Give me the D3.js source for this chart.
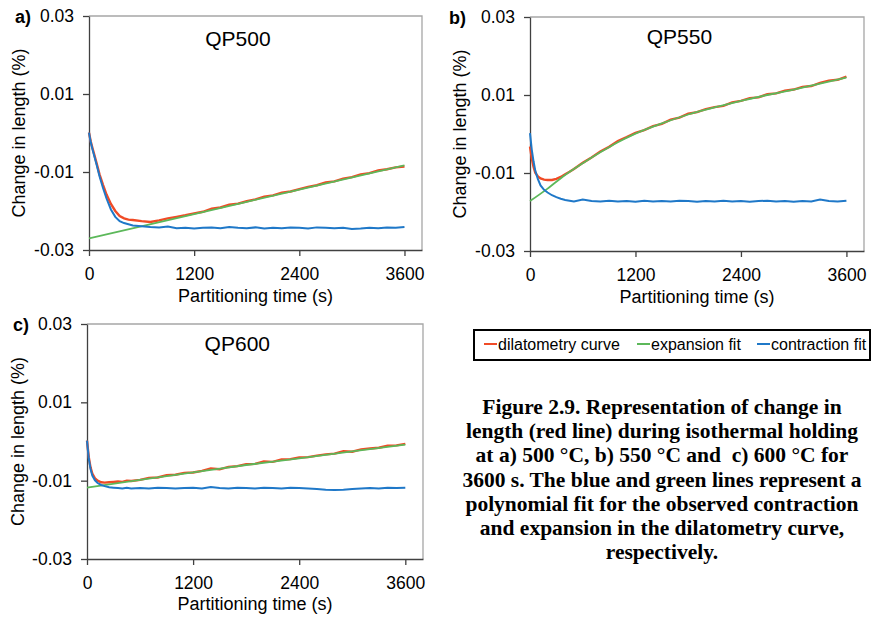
<!DOCTYPE html>
<html>
<head>
<meta charset="utf-8">
<title>Change in length during isothermal holding</title>
<script src="https://d3js.org/d3.v7.min.js"></script>
<style>
	body { margin: 0; background: #fff; }
	svg text { font-family: "Liberation Sans", Arial, sans-serif; fill: #000; }
	.axis path, .axis line { stroke: #404040; stroke-width: 1.3; }
	.axis text { font-size: 17.5px; }
	.frame { fill: none; stroke: #a6a6a6; stroke-width: 1.3; }
	.caption text { font-family: "Liberation Serif", "Times New Roman", serif; font-weight: bold; font-size: 21.5px; white-space: pre; }
</style>
</head>
<body>
<svg id="chart" width="872" height="618"></svg>
<script>
// partitioning time (s) for the measured / contraction series
var time = [0, 20, 40, 60, 90, 120, 160, 200, 250, 300, 350, 400, 450, 500,
	600, 700, 800, 900, 1000, 1100, 1200, 1300, 1400, 1500, 1600, 1700, 1800, 1900,
	2000, 2100, 2200, 2300, 2400, 2500, 2600, 2700, 2800, 2900, 3000, 3100, 3200,
	3300, 3400, 3500, 3600];

// QP500
var qp500Dil = [0.0001, -0.0022, -0.0039, -0.0055, -0.0080, -0.0106, -0.0133, -0.0158, -0.0182, -0.0200, -0.0213, -0.0219, -0.0222, -0.0223,
	-0.0226, -0.0228, -0.0224, -0.0219, -0.0215, -0.0211, -0.0206, -0.0202, -0.0194, -0.0191, -0.0184, -0.0181, -0.0175, -0.0170,
	-0.0163, -0.0160, -0.0153, -0.0150, -0.0144, -0.0138, -0.0134, -0.0127, -0.0124, -0.0117, -0.0113, -0.0106, -0.0103,
	-0.0096, -0.0093, -0.0088, -0.0086];
var qp500Con = [0.0001, -0.0024, -0.0042, -0.0059, -0.0084, -0.0111, -0.0141, -0.0168, -0.0196, -0.0215, -0.0226, -0.0231, -0.0234, -0.0237,
	-0.0239, -0.0241, -0.0242, -0.0240, -0.0244, -0.0243, -0.0245, -0.0243, -0.0242, -0.0244, -0.0241, -0.0243, -0.0244, -0.0242,
	-0.0245, -0.0243, -0.0244, -0.0242, -0.0243, -0.0245, -0.0242, -0.0243, -0.0244, -0.0243, -0.0246, -0.0245, -0.0243,
	-0.0244, -0.0242, -0.0243, -0.0241];
var qp500FitTime = [0, 1200, 2400, 3600];
var qp500Exp = [-0.0270, -0.0208, -0.0145, -0.0083];

// QP550
var qp550Dil = [-0.0032, -0.0062, -0.0084, -0.0099, -0.0109, -0.0114, -0.0117, -0.0118, -0.0118, -0.0115, -0.0110, -0.0103, -0.0097, -0.0090,
	-0.0074, -0.0060, -0.0045, -0.0033, -0.0018, -0.0008, 0.0003, 0.0010, 0.0020, 0.0026, 0.0037, 0.0042, 0.0052, 0.0056,
	0.0064, 0.0069, 0.0072, 0.0081, 0.0085, 0.0092, 0.0094, 0.0102, 0.0104, 0.0111, 0.0114, 0.0121, 0.0123,
	0.0131, 0.0137, 0.0139, 0.0147];
var qp550Con = [0.0002, -0.0040, -0.0070, -0.0094, -0.0116, -0.0132, -0.0143, -0.0150, -0.0157, -0.0162, -0.0166, -0.0169, -0.0171, -0.0173,
	-0.0168, -0.0172, -0.0173, -0.0171, -0.0173, -0.0172, -0.0174, -0.0171, -0.0173, -0.0172, -0.0173, -0.0171, -0.0172, -0.0174,
	-0.0172, -0.0173, -0.0171, -0.0173, -0.0172, -0.0174, -0.0172, -0.0171, -0.0173, -0.0172, -0.0174, -0.0172, -0.0173,
	-0.0168, -0.0172, -0.0173, -0.0171];
var qp550FitTime = [0, 200, 400, 600, 800, 1000, 1200, 1500, 1800, 2100, 2400, 2700, 3000, 3300, 3600];
var qp550Exp = [-0.0172, -0.0140, -0.0105, -0.0075, -0.0047, -0.0021, 0.0001, 0.0027, 0.0050, 0.0068, 0.0085, 0.0100, 0.0114, 0.0129, 0.0145];

// QP600
var qp600Dil = [0.0002, -0.0040, -0.0066, -0.0082, -0.0094, -0.0100, -0.0104, -0.0105, -0.0104, -0.0103, -0.0102, -0.0103, -0.0100, -0.0101,
	-0.0098, -0.0093, -0.0092, -0.0086, -0.0085, -0.0080, -0.0079, -0.0075, -0.0069, -0.0071, -0.0065, -0.0063, -0.0058, -0.0057,
	-0.0051, -0.0052, -0.0046, -0.0045, -0.0041, -0.0040, -0.0036, -0.0033, -0.0031, -0.0025, -0.0026, -0.0020, -0.0018,
	-0.0016, -0.0011, -0.0010, -0.0006];
var qp600Con = [0.0002, -0.0044, -0.0070, -0.0087, -0.0099, -0.0106, -0.0111, -0.0114, -0.0117, -0.0118, -0.0119, -0.0120, -0.0118, -0.0120,
	-0.0119, -0.0120, -0.0118, -0.0119, -0.0120, -0.0119, -0.0118, -0.0120, -0.0116, -0.0119, -0.0120, -0.0118, -0.0119, -0.0120,
	-0.0118, -0.0119, -0.0120, -0.0118, -0.0119, -0.0120, -0.0121, -0.0123, -0.0124, -0.0123, -0.0121, -0.0120, -0.0119,
	-0.0120, -0.0118, -0.0119, -0.0118];
var qp600FitTime = [0, 600, 1200, 1800, 2400, 3000, 3600];
var qp600Exp = [-0.0118, -0.0098, -0.0079, -0.0060, -0.0043, -0.0025, -0.0008];

var yTicks = [-0.03, -0.01, 0.01, 0.03];
var xTicks = [0, 1200, 2400, 3600];
var legendLabels = ["dilatometry curve", "expansion fit", "contraction fit"];
var captionLines = [
	"Figure 2.9. Representation of change in",
	"length (red line) during isothermal holding",
	"at a) 500 \u00b0C, b) 550 \u00b0C and  c) 600 \u00b0C for",
	"3600 s. The blue and green lines represent a",
	"polynomial fit for the observed contraction",
	"and expansion in the dilatometry curve,",
	"respectively."
];

var colors = { dil: "#f04b26", exp: "#5cb85a", con: "#1f78c8" };

var svg = d3.select("#chart");

var panels = [
	{ tag: "a)", name: "QP500", dil: qp500Dil, con: qp500Con, fitT: qp500FitTime, fit: qp500Exp,
	  left: 89, right: 422, top: 16, bottom: 250, ylabX: 25, tagX: 15, tickY: 280, titleY: 302, nameY: 46 },
	{ tag: "b)", name: "QP550", dil: qp550Dil, con: qp550Con, fitT: qp550FitTime, fit: qp550Exp,
	  left: 530, right: 864, top: 17, bottom: 251, ylabX: 466, tagX: 449, tickY: 281, titleY: 303, nameY: 44 },
	{ tag: "c)", name: "QP600", dil: qp600Dil, con: qp600Con, fitT: qp600FitTime, fit: qp600Exp,
	  left: 87, right: 423, top: 324, bottom: 559, ylabX: 24, tagX: 13, tickY: 589, titleY: 610, nameY: 351 }
];

panels.forEach(drawPanel);

function drawPanel(p) {
	var x = d3.scaleLinear().domain([0, 3800]).range([p.left, p.right]);
	var y = d3.scaleLinear().domain([-0.03, 0.03]).range([p.bottom, p.top]);
	var g = svg.append("g");

	g.append("path")
	 .attr("class", "frame")
	 .attr("d", "M" + p.left + "," + p.top + "H" + p.right + "V" + p.bottom);

	g.append("g")
	 .attr("class", "axis")
	 .attr("transform", "translate(" + p.left + ",0)")
	 .call(d3.axisLeft(y).tickValues(yTicks).tickSize(6).tickSizeOuter(0).tickPadding(9)
		 .tickFormat(function(d) { return d.toFixed(2); }));

	var xa = g.append("g")
	 .attr("class", "axis")
	 .attr("transform", "translate(0," + p.bottom + ")")
	 .call(d3.axisBottom(x).tickValues(xTicks).tickSize(6).tickSizeOuter(0)
		 .tickFormat(function(d) { return String(d); }));
	xa.selectAll(".tick text").attr("dy", null).attr("y", p.tickY - p.bottom);

	svg.selectAll(".axis").attr("font-family", null).attr("font-size", null);

	var mid = (p.top + p.bottom) / 2;
	g.append("text")
	 .attr("transform", "translate(" + p.ylabX + "," + mid + ") rotate(-90)")
	 .attr("text-anchor", "middle")
	 .style("font-size", "18px")
	 .text("Change in length (%)");

	g.append("text")
	 .attr("x", (p.left + p.right) / 2)
	 .attr("y", p.titleY)
	 .attr("text-anchor", "middle")
	 .style("font-size", "18px")
	 .text("Partitioning time (s)");

	g.append("text")
	 .attr("x", p.tagX)
	 .attr("y", p.top + 7)
	 .style("font-size", "18px")
	 .style("font-weight", "bold")
	 .text(p.tag);

	g.append("text")
	 .attr("x", x(1700))
	 .attr("y", p.nameY)
	 .attr("text-anchor", "middle")
	 .style("font-size", "21px")
	 .text(p.name);

	var line = d3.line()
		.x(function(d) { return x(d[0]); })
		.y(function(d) { return y(d[1]); });

	g.append("path")
	 .datum(d3.zip(time, p.dil))
	 .attr("fill", "none")
	 .attr("stroke", colors.dil)
	 .attr("stroke-width", 2.4)
	 .attr("d", line);

	g.append("path")
	 .datum(d3.zip(p.fitT, p.fit))
	 .attr("fill", "none")
	 .attr("stroke", colors.exp)
	 .attr("stroke-width", 1.8)
	 .attr("d", line.curve(d3.curveMonotoneX));

	line.curve(d3.curveLinear);
	g.append("path")
	 .datum(d3.zip(time, p.con))
	 .attr("fill", "none")
	 .attr("stroke", colors.con)
	 .attr("stroke-width", 2)
	 .attr("d", line);
}

// legend
var lg = svg.append("g");
lg.append("rect")
  .attr("x", 474).attr("y", 330).attr("width", 396).attr("height", 30)
  .attr("fill", "#fff").attr("stroke", "#000").attr("stroke-width", 2);
var legendX = [484, 637, 757];
var legendColors = [colors.dil, colors.exp, colors.con];
legendLabels.forEach(function(label, i) {
	lg.append("line")
	  .attr("x1", legendX[i]).attr("x2", legendX[i] + 13)
	  .attr("y1", 344).attr("y2", 344)
	  .attr("stroke", legendColors[i]).attr("stroke-width", 2);
	lg.append("text")
	  .attr("x", legendX[i] + 14).attr("y", 349.5)
	  .style("font-size", "16px")
	  .text(label);
});

// caption
svg.append("g")
   .attr("class", "caption")
   .selectAll("text")
   .data(captionLines)
   .enter()
   .append("text")
   .attr("x", 662)
   .attr("y", function(d, i) { return 414 + i * 24.2; })
   .attr("text-anchor", "middle")
   .text(function(d) { return d; });
</script>
</body>
</html>
